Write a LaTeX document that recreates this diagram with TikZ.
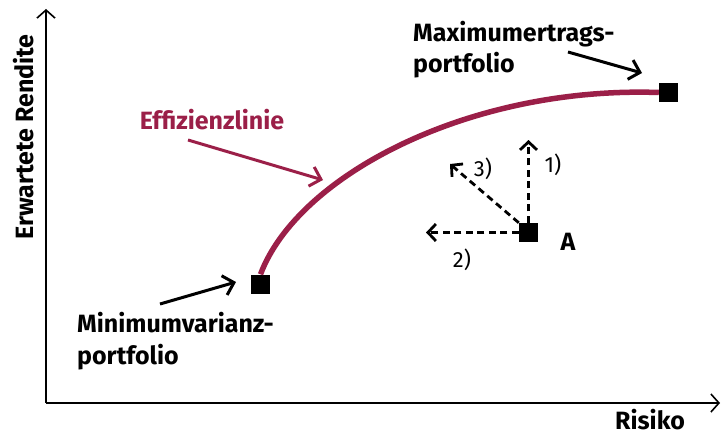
\documentclass[tikz,border=0pt]{standalone}
\usepackage{fontspec}
\setmainfont{Fira Sans}
\usetikzlibrary{arrows.meta}
\definecolor{effrot}{HTML}{9B1F48}

\begin{document}
\begin{tikzpicture}[x=1pt,y=-1pt,
    every node/.style={font=\bfseries\fontsize{25}{31.5}\selectfont, inner sep=0pt},
    numlbl/.style={font=\fontsize{22}{25}\selectfont},
    axis/.style={line width=1.6pt, -{Straight Barb[length=8pt,width=18pt]}},
    pointer/.style={line width=3pt, -{Straight Barb[length=10pt,width=20pt]}},
    move/.style={line width=2.8pt, dash pattern=on 7pt off 4.5pt,
      -{Straight Barb[length=8pt,width=17pt]}},
    pfbox/.style={fill=black, minimum size=19pt},
    effline/.style={effrot, line width=5.5pt}]
  \useasboundingbox (0,0) rectangle (721,436);

  % axes
  \coordinate (origin) at (46,403);
  \coordinate (ytop) at (46,9);
  \coordinate (xend) at (720,403);
  \draw[axis] (origin) -- (ytop);
  \draw[axis] (origin) -- (xend);
  \node[rotate=90, anchor=base] (ylbl) at (33,137) {Erwartete Rendite};
  \node[anchor=base] (xlbl) at (650,429) {Risiko};

  % portfolios
  \node[pfbox] (minpf) at (260.5,284) {};
  \node[pfbox] (maxpf) at (668.5,92.5) {};
  \draw[effline] (minpf.north) .. controls (298,175) and (470,86) .. (maxpf.west);

  \node[effrot, anchor=base] (efflbl) at (212,129) {Effizienzlinie};
  \coordinate (efftail) at (188,140);
  \coordinate (efftip) at (323,180);
  \draw[pointer, effrot] (efftail) -- (efftip);

  \node[anchor=base west, align=left] (maxlbl) at (413,73) {Maximumertrags-\\portfolio};
  \coordinate (maxtail) at (568,52);
  \coordinate (maxtip) at (642,73);
  \draw[pointer] (maxtail) -- (maxtip);

  \node[anchor=base west, align=left] (minlbl) at (77,364) {Minimumvarianz-\\portfolio};
  \coordinate (mintail) at (160,304);
  \coordinate (mintip) at (236,282);
  \draw[pointer] (mintail) -- (mintip);

  % Portfolio A
  \node[pfbox] (A) at (528.5,232.5) {};
  \node[anchor=base] (Albl) at (568,250) {A};
  \coordinate (up) at (528.5,140);
  \coordinate (left) at (426,232.5);
  \coordinate (diag) at (450,164);
  \draw[move] (A.north) -- (up);
  \draw[move] (A.west) -- (left);
  \draw[move] (A.north west) -- (diag);
  \node[numlbl] (one) at (553,165) {1)};
  \node[numlbl] (two) at (462,260) {2)};
  \node[numlbl] (three) at (483,169) {3)};
\end{tikzpicture}
\end{document}
